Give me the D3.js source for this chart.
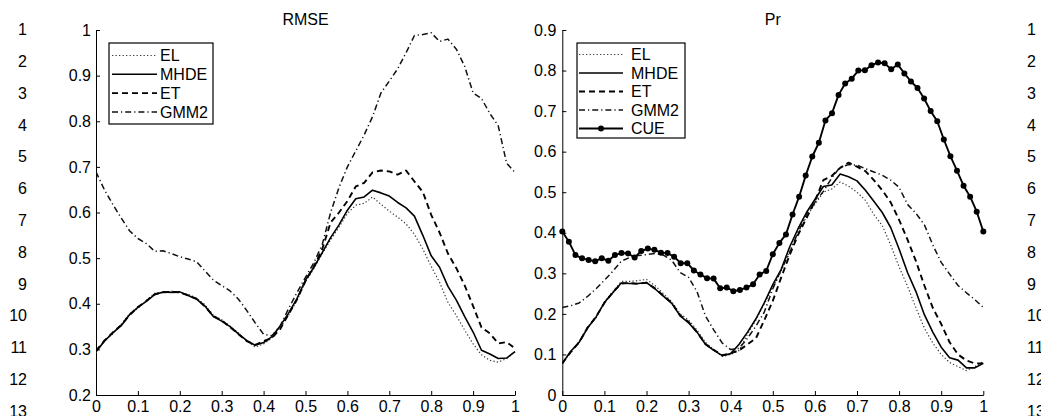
<!DOCTYPE html>
<html>
<head>
<meta charset="utf-8">
<script src="https://cdn.jsdelivr.net/npm/d3@7"></script>
<style>
  html, body { margin: 0; padding: 0; background: #fff; }
  svg { display: block; }
  text { font-family: "Liberation Sans", Arial, Helvetica, sans-serif; fill: #000; }
</style>
</head>
<body>
<svg id="chart" width="1041" height="416"></svg>
<script>
// ---------------- DATA ----------------
const xGrid = [0,0.02,0.04,0.06,0.08,0.1,0.12,0.14,0.16,0.18,0.2,0.22,0.24,0.26,0.28,0.3,0.32,0.34,0.36,0.38,0.4,
  0.42,0.44,0.46,0.48,0.5,0.52,0.54,0.56,0.58,0.6,0.62,0.64,0.66,0.68,0.7,0.72,0.74,0.76,0.78,0.8,
  0.82,0.84,0.86,0.88,0.9,0.92,0.94,0.96,0.98,1];
const xTicks = [0,0.1,0.2,0.3,0.4,0.5,0.6,0.7,0.8,0.9,1];
const xTickLabels = ["0","0.1","0.2","0.3","0.4","0.5","0.6","0.7","0.8","0.9","1"];

// RMSE panel
const rmseTicks = [0.2,0.3,0.4,0.5,0.6,0.7,0.8,0.9,1];
const rmseTickLabels = ["0.2","0.3","0.4","0.5","0.6","0.7","0.8","0.9","1"];
const rmseEL   = [0.292,0.320,0.334,0.355,0.378,0.390,0.407,0.423,0.424,0.428,0.424,0.421,0.412,0.398,0.375,0.365,0.351,0.336,0.318,0.305,0.312,
  0.325,0.349,0.375,0.408,0.448,0.477,0.510,0.540,0.568,0.598,0.616,0.620,0.634,0.618,0.603,0.590,0.575,0.552,0.520,0.482,
  0.447,0.403,0.374,0.342,0.312,0.288,0.276,0.272,0.280,0.295];
const rmseMHDE = [0.295,0.318,0.336,0.352,0.376,0.392,0.405,0.420,0.426,0.425,0.426,0.418,0.410,0.395,0.372,0.362,0.350,0.334,0.319,0.309,0.315,
  0.328,0.352,0.380,0.412,0.452,0.480,0.512,0.545,0.573,0.605,0.630,0.634,0.649,0.643,0.636,0.622,0.610,0.592,0.550,0.505,
  0.480,0.438,0.408,0.372,0.338,0.298,0.290,0.280,0.281,0.295];
const rmseET   = [0.297,0.319,0.337,0.353,0.375,0.393,0.406,0.421,0.425,0.426,0.425,0.418,0.411,0.394,0.373,0.363,0.349,0.333,0.318,0.310,0.318,
  0.325,0.345,0.378,0.410,0.450,0.482,0.520,0.578,0.600,0.625,0.657,0.665,0.688,0.692,0.690,0.683,0.692,0.668,0.645,0.595,
  0.556,0.510,0.478,0.440,0.395,0.348,0.335,0.313,0.316,0.302];
const rmseGMM2 = [0.689,0.650,0.618,0.588,0.560,0.543,0.532,0.515,0.516,0.510,0.503,0.498,0.492,0.472,0.452,0.440,0.428,0.410,0.385,0.358,0.333,
  0.330,0.352,0.390,0.425,0.458,0.490,0.530,0.600,0.655,0.700,0.735,0.770,0.810,0.862,0.888,0.915,0.950,0.988,0.990,0.994,
  0.975,0.980,0.958,0.920,0.862,0.850,0.817,0.790,0.708,0.688];

// Pr panel
const prTicks = [0,0.1,0.2,0.3,0.4,0.5,0.6,0.7,0.8,0.9];
const prTickLabels = ["0","0.1","0.2","0.3","0.4","0.5","0.6","0.7","0.8","0.9"];
const prEL   = [0.080,0.104,0.132,0.168,0.190,0.230,0.255,0.280,0.280,0.282,0.285,0.270,0.250,0.230,0.200,0.185,0.160,0.130,0.112,0.095,0.100,
  0.110,0.150,0.185,0.225,0.265,0.305,0.355,0.400,0.440,0.470,0.500,0.508,0.525,0.515,0.500,0.480,0.445,0.418,0.370,0.316,
  0.268,0.215,0.165,0.128,0.100,0.080,0.070,0.060,0.070,0.082];
const prMHDE = [0.078,0.108,0.130,0.165,0.192,0.228,0.252,0.276,0.275,0.275,0.277,0.262,0.244,0.226,0.195,0.178,0.155,0.125,0.110,0.097,0.102,
  0.125,0.155,0.188,0.228,0.272,0.310,0.365,0.410,0.450,0.482,0.514,0.518,0.545,0.538,0.528,0.505,0.478,0.450,0.413,0.360,
  0.302,0.255,0.198,0.155,0.118,0.092,0.086,0.067,0.067,0.078];
const prET   = [0.078,0.106,0.130,0.166,0.193,0.227,0.253,0.275,0.276,0.274,0.277,0.263,0.245,0.227,0.196,0.180,0.155,0.126,0.111,0.098,0.103,
  0.110,0.125,0.140,0.185,0.232,0.290,0.345,0.395,0.436,0.478,0.530,0.540,0.560,0.573,0.563,0.552,0.530,0.505,0.475,0.432,
  0.383,0.330,0.270,0.215,0.175,0.130,0.100,0.085,0.078,0.078];
const prGMM2 = [0.216,0.220,0.227,0.243,0.262,0.283,0.305,0.330,0.339,0.344,0.346,0.349,0.345,0.332,0.302,0.290,0.255,0.195,0.160,0.128,0.112,
  0.115,0.140,0.170,0.205,0.262,0.310,0.350,0.402,0.445,0.475,0.502,0.535,0.562,0.568,0.567,0.558,0.550,0.542,0.530,0.512,
  0.470,0.448,0.420,0.370,0.327,0.298,0.270,0.252,0.235,0.216];
const prCUE  = [0.403,0.378,0.345,0.337,0.333,0.330,0.337,0.331,0.345,0.350,0.349,0.339,0.355,0.361,0.358,0.351,0.350,0.341,0.325,0.325,
  0.307,0.297,0.288,0.287,0.263,0.265,0.256,0.259,0.265,0.273,0.297,0.306,0.347,0.375,0.396,0.445,0.489,0.541,0.588,0.622,
  0.677,0.695,0.740,0.768,0.780,0.800,0.801,0.813,0.820,0.818,0.803,0.815,0.793,0.773,0.757,0.731,0.700,0.675,0.630,0.589,
  0.553,0.516,0.489,0.452,0.403];
const cueX = d3.range(prCUE.length).map(i => i / (prCUE.length - 1));

const lineNumbers = ["1","2","3","4","5","6","7","8","9","10","11","12","13"];

// ---------------- STYLES ----------------
const styles = {
  EL:   { stroke: "#3a3a3a", width: 1.2, dash: "1.3,2.2" },
  MHDE: { stroke: "#000", width: 1.6, dash: null },
  ET:   { stroke: "#000", width: 1.9, dash: "6,4" },
  GMM2: { stroke: "#111", width: 1.5, dash: "6,3,1.2,3" },
  CUE:  { stroke: "#000", width: 1.9, dash: null, marker: true }
};

const svg = d3.select("#chart");

function drawPanel(cfg) {
  const x = d3.scaleLinear().domain([0, 1]).range([cfg.x0, cfg.x1]);
  const y = d3.scaleLinear().domain(cfg.yDomain).range([395, 30]);
  const g = svg.append("g");

  // axes
  const xAxis = d3.axisBottom(x).tickValues(xTicks)
    .tickFormat((d, i) => xTickLabels[i]).tickSizeInner(-4).tickSizeOuter(0).tickPadding(6);
  const yAxis = d3.axisLeft(y).tickValues(cfg.yTicks)
    .tickFormat((d, i) => cfg.yLabels[i]).tickSizeInner(-4).tickSizeOuter(0).tickPadding(cfg.yPad);

  const gx = g.append("g").attr("transform", `translate(0,${y.range()[0]})`).call(xAxis);
  const gy = g.append("g").attr("transform", `translate(${cfg.x0},0)`).call(yAxis);
  [gx, gy].forEach(a => {
    a.selectAll("text").style("font-size", "16px").attr("font-family", null);
    a.selectAll("path, line").attr("stroke", "#000").attr("stroke-width", 1);
    a.attr("font-family", null).attr("font-size", null);
  });

  // title
  g.append("text").attr("x", (cfg.x0 + cfg.x1) / 2).attr("y", 25)
    .attr("text-anchor", "middle").style("font-size", "16px").text(cfg.title);

  // series
  const clipId = "clip" + cfg.title;
  svg.append("clipPath").attr("id", clipId).append("rect")
    .attr("x", cfg.x0).attr("y", 20).attr("width", cfg.x1 - cfg.x0 + 6).attr("height", 380);
  const sg = g.append("g").attr("clip-path", `url(#${clipId})`);
  cfg.series.forEach(s => {
    const st = styles[s.name];
    const xs = s.x || xGrid;
    const pts = s.values.map((v, i) => [xs[i], v]);
    const line = d3.line().x(d => x(d[0])).y(d => y(d[1]));
    sg.append("path").datum(pts).attr("d", line)
      .attr("fill", "none").attr("stroke", st.stroke).attr("stroke-width", st.width)
      .attr("stroke-dasharray", st.dash).attr("stroke-linejoin", "round");
    if (st.marker) {
      g.append("g").selectAll("circle").data(pts).join("circle")
        .attr("cx", d => x(d[0])).attr("cy", d => y(d[1])).attr("r", 3).attr("fill", "#000");
    }
  });

  // legend
  const L = cfg.legend;
  const lg = g.append("g");
  lg.append("rect").attr("x", L.x).attr("y", L.y).attr("width", L.w).attr("height", L.h)
    .attr("fill", "#fff").attr("stroke", "#000").attr("stroke-width", 1.2);
  cfg.series.forEach((s, i) => {
    const st = styles[s.name];
    const yy = L.firstY + i * L.step;
    lg.append("line").attr("x1", L.sx0).attr("x2", L.sx1).attr("y1", yy).attr("y2", yy)
      .attr("stroke", st.stroke).attr("stroke-width", st.width).attr("stroke-dasharray", st.dash);
    if (st.marker) lg.append("circle").attr("cx", (L.sx0 + L.sx1) / 2).attr("cy", yy).attr("r", 3).attr("fill", "#000");
    lg.append("text").attr("x", L.tx).attr("y", yy).attr("dy", "0.36em")
      .style("font-size", "16px").text(s.name);
  });
}

drawPanel({
  title: "RMSE", x0: 96, x1: 515, yDomain: [0.2, 1], yTicks: rmseTicks, yLabels: rmseTickLabels, yPad: 5,
  series: [
    { name: "EL", values: rmseEL }, { name: "MHDE", values: rmseMHDE },
    { name: "ET", values: rmseET }, { name: "GMM2", values: rmseGMM2 }
  ],
  legend: { x: 109, y: 43, w: 104, h: 81, firstY: 55.5, step: 18.8, sx0: 112, sx1: 157, tx: 160 }
});

drawPanel({
  title: "Pr", x0: 562.3, x1: 983.3, yDomain: [0, 0.9], yTicks: prTicks, yLabels: prTickLabels, yPad: 6,
  series: [
    { name: "EL", values: prEL }, { name: "MHDE", values: prMHDE },
    { name: "ET", values: prET }, { name: "GMM2", values: prGMM2 },
    { name: "CUE", values: prCUE, x: cueX }
  ],
  legend: { x: 577, y: 43, w: 108, h: 95, firstY: 54.5, step: 18.5, sx0: 579, sx1: 623, tx: 631 }
});

// page line numbers
const ln = d3.scaleLinear().domain([0, 12]).range([29.5, 411]);
svg.append("g").selectAll("text").data(lineNumbers).join("text")
  .attr("x", 27).attr("y", (d, i) => ln(i)).attr("dy", "0.36em").attr("text-anchor", "end")
  .style("font-size", "16px").text(d => d);
svg.append("g").selectAll("text").data(lineNumbers).join("text")
  .attr("x", 1027).attr("y", (d, i) => ln(i)).attr("dy", "0.36em").attr("text-anchor", "start")
  .style("font-size", "16px").text(d => d);
</script>
</body>
</html>
